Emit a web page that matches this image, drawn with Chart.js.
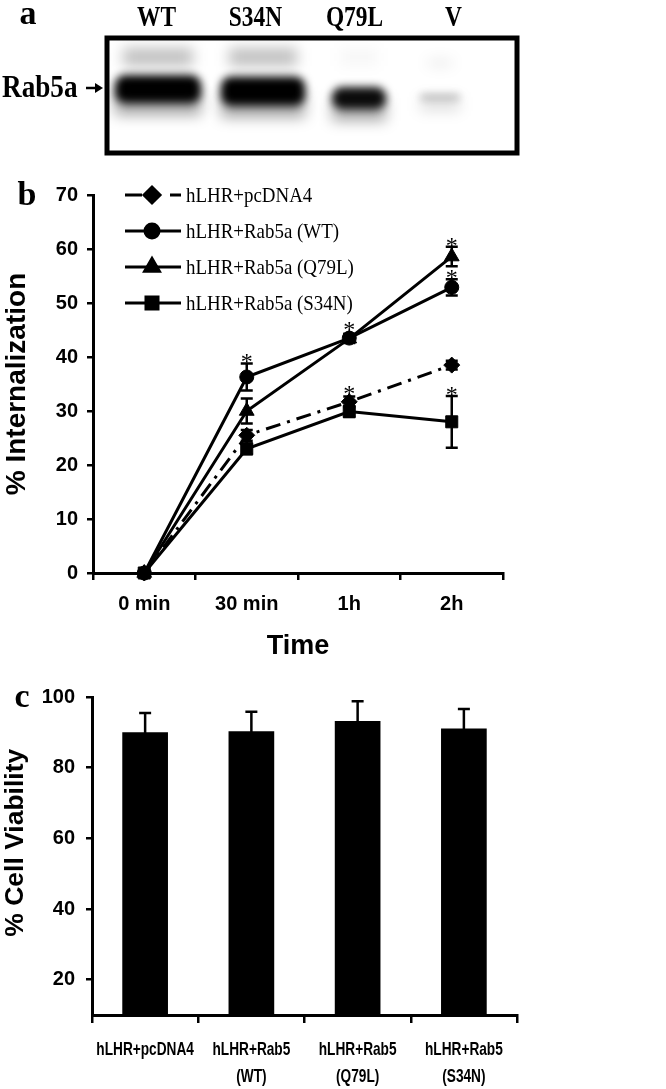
<!DOCTYPE html>
<html>
<head>
<meta charset="utf-8">
<script src="https://cdn.jsdelivr.net/npm/chart.js@4.4.0/dist/chart.umd.min.js"></script>
<style>
  html, body { margin: 0; padding: 0; background: #fff; }
  #wrap { position: relative; width: 666px; height: 1089px; overflow: hidden; }
  canvas { position: absolute; left: 0; }
</style>
</head>
<body>
<div id="wrap">
  <canvas id="blotChart" width="666" height="160" style="top:0px"></canvas>
  <canvas id="internChart" width="666" height="520" style="top:160px"></canvas>
  <canvas id="viabChart" width="666" height="409" style="top:680px"></canvas>
</div>
<script>
// panel a - western blot lanes
const blotLanes = ['WT', 'S34N', 'Q79L', 'V'];
const blotMainBand = [1.0, 1.0, 0.95, 0.35];
const blotUpperBand = [0.25, 0.25, 0.03, 0.15];

// panel b - internalization time course
const timeLabels = ['0 min', '30 min', '1h', '2h'];
const internYTicks = [0, 10, 20, 30, 40, 50, 60, 70];
const pcDNA4 = [0, 25.5, 31.7, 38.5];
const pcDNA4Err = [0, 1.0, 1.0, 0.8];
const pcDNA4Sig = [0, 0, 1, 0];
const rab5WT = [0, 36.3, 43.5, 52.9];
const rab5WTErr = [0, 2.5, 0.8, 1.5];
const rab5WTSig = [0, 1, 1, 1];
const rab5Q79L = [0, 30.0, 43.4, 58.6];
const rab5Q79LErr = [0, 2.3, 0.8, 1.8];
const rab5Q79LSig = [0, 0, 0, 1];
const rab5S34N = [0, 23.0, 29.9, 28.0];
const rab5S34NErr = [0, 1.0, 1.0, 4.8];
const rab5S34NSig = [0, 0, 0, 1];

// panel c - cell viability
const viabLabels = [['hLHR+pcDNA4'], ['hLHR+Rab5', '(WT)'], ['hLHR+Rab5', '(Q79L)'], ['hLHR+Rab5', '(S34N)']];
const viability = [90.0, 90.3, 93.2, 91.1];
const viabilityErr = [5.5, 5.5, 5.6, 5.5];
const viabYTicks = [20, 40, 60, 80, 100];

const serif = '"Liberation Serif", "Times New Roman", serif';
const sans = '"Liberation Sans", Arial, sans-serif';
Chart.defaults.color = '#000';
Chart.defaults.animation = false;
Chart.defaults.font.family = sans;

function panelLetter(letter, x, y) {
    return {
        id: 'panel_' + letter,
        afterDraw(chart) {
            const ctx = chart.ctx;
            ctx.save();
            ctx.font = 'bold 34px ' + serif;
            ctx.fillStyle = '#000';
            ctx.textAlign = 'center';
            ctx.textBaseline = 'middle';
            ctx.fillText(letter, x, y);
            ctx.restore();
        }
    };
}

// error bars + significance stars, read from dataset.errors / dataset.stars
const errorBarPlugin = {
    id: 'errorBars',
    afterDatasetsDraw(chart) {
        const ctx = chart.ctx;
        const yScale = chart.scales.y;
        chart.data.datasets.forEach((ds, i) => {
            if (!ds.errors) return;
            const meta = chart.getDatasetMeta(i);
            meta.data.forEach((el, j) => {
                const v = ds.data[j];
                const e = ds.errors[j];
                const x = el.x;
                const yTop = yScale.getPixelForValue(v + e);
                const yBot = yScale.getPixelForValue(v - e);
                ctx.save();
                ctx.strokeStyle = '#000';
                ctx.lineWidth = 2.5;
                if (e > 0) {
                    ctx.beginPath();
                    ctx.moveTo(x, yTop); ctx.lineTo(x, yBot);
                    ctx.moveTo(x - 6, yTop); ctx.lineTo(x + 6, yTop);
                    ctx.moveTo(x - 6, yBot); ctx.lineTo(x + 6, yBot);
                    ctx.stroke();
                }
                if (ds.stars && ds.stars[j]) {
                    ctx.fillStyle = '#000';
                    ctx.font = '24px ' + serif;
                    ctx.textAlign = 'center';
                    ctx.textBaseline = 'alphabetic';
                    ctx.fillText('*', x, Math.min(yTop, el.y - 7) + 6);
                }
                ctx.restore();
            });
        });
    }
};

const lineLegendPlugin = {
    id: 'lineLegend',
    afterDraw(chart) {
        const ctx = chart.ctx;
        chart.data.datasets.forEach((ds, i) => {
            const y = 35 + i * 36;
            ctx.save();
            ctx.strokeStyle = '#000';
            ctx.fillStyle = '#000';
            ctx.lineWidth = 3;
            ctx.setLineDash(ds.borderDash ? [17, 28, 11] : []);
            ctx.beginPath();
            ctx.moveTo(125, y); ctx.lineTo(181, y);
            ctx.stroke();
            ctx.setLineDash([]);
            Chart.helpers.drawPoint(ctx, { pointStyle: ds.pointStyle, radius: ds.pointRadius, borderWidth: 1, rotation: 0 }, 152, y);
            ctx.translate(186, y);
            ctx.scale(0.86, 1);
            ctx.font = '22px ' + serif;
            ctx.textBaseline = 'middle';
            ctx.fillText(ds.label, 0, 1);
            ctx.restore();
        });
    }
};

// condensed two-line category labels under panel c
const narrowLabelPlugin = {
    id: 'narrowLabels',
    afterDraw(chart) {
        const { ctx, scales: { x } } = chart;
        ctx.save();
        ctx.fillStyle = '#000';
        ctx.font = 'bold 19px ' + sans;
        ctx.textAlign = 'center';
        ctx.textBaseline = 'middle';
        chart.data.labels.forEach((lines, i) => {
            lines.forEach((line, k) => {
                ctx.save();
                ctx.translate(x.getPixelForValue(i), x.top + 35 + k * 27);
                ctx.scale(0.72, 1);
                ctx.fillText(line, 0, 0);
                ctx.restore();
            });
        });
        ctx.restore();
    }
};

const blotPlugin = {
    id: 'blot',
    beforeDatasetsDraw(chart) {
        const { ctx, chartArea: a, scales: { x } } = chart;
        const box = { l: a.left, t: a.top, r: a.right + 14, b: a.bottom };
        // lane drawing constants (band width, height, vertical centre, x shift)
        const shape = [
            { w: 86, h: 28, cy: 89, dx: 1.5 },
            { w: 84, h: 29, cy: 91, dx: 7.5 },
            { w: 54, h: 22, cy: 98, dx: 4.5 },
            { w: 40, h: 4, cy: 97, dx: -13.5 }
        ];
        ctx.save();
        ctx.beginPath();
        ctx.rect(box.l, box.t, box.r - box.l, box.b - box.t);
        ctx.clip();
        blotLanes.forEach((lane, i) => {
            const s = shape[i];
            const cx = x.getPixelForValue(i) + s.dx;
            ctx.filter = 'blur(7px)';
            ctx.fillStyle = 'rgba(0,0,0,' + blotUpperBand[i] + ')';
            ctx.fillRect(cx - s.w / 2 + 8, i === 3 ? 61 : 48, s.w - 16, i === 3 ? 4 : 18);
            ctx.fillStyle = 'rgba(0,0,0,' + (blotMainBand[i] * 0.35) + ')';
            ctx.fillRect(cx - s.w / 2, s.cy, s.w, s.h / 2 + 12);
            ctx.filter = 'blur(4px)';
            ctx.fillStyle = 'rgba(0,0,0,' + blotMainBand[i] + ')';
            ctx.beginPath();
            ctx.roundRect(cx - s.w / 2, s.cy - s.h / 2, s.w, s.h, Math.min(s.h / 2, 10));
            ctx.fill();
        });
        ctx.filter = 'none';
        ctx.restore();

        ctx.save();
        ctx.strokeStyle = '#000';
        ctx.lineWidth = 5;
        ctx.strokeRect(box.l, box.t, box.r - box.l, box.b - box.t);
        ctx.fillStyle = '#000';
        ctx.textBaseline = 'middle';
        // lane labels above the box
        ctx.font = 'bold 30px ' + serif;
        ctx.textAlign = 'center';
        chart.data.labels.forEach((lab, i) => {
            ctx.save();
            ctx.translate(x.getPixelForValue(i), 18);
            ctx.scale(0.78, 1);
            ctx.fillText(lab, 0, 0);
            ctx.restore();
        });
        // band marker on the left
        ctx.save();
        ctx.translate(2, 89);
        ctx.scale(0.85, 1);
        ctx.font = 'bold 32px ' + serif;
        ctx.textAlign = 'left';
        ctx.fillText('Rab5a', 0, 0);
        ctx.restore();
        ctx.lineWidth = 2.5;
        ctx.beginPath();
        ctx.moveTo(86, 88); ctx.lineTo(97, 88);
        ctx.stroke();
        ctx.beginPath();
        ctx.moveTo(95, 83); ctx.lineTo(103, 88); ctx.lineTo(95, 93);
        ctx.closePath();
        ctx.fill();
        ctx.restore();
    }
};

// fixed axis box sizes, without the extra label padding Chart.js adds at the ends
function fixWidth(w) {
    return s => { s.width = w; s.paddingTop = 0; s.paddingBottom = 0; };
}
function fixHeight(h) {
    return s => { s.height = h; s.paddingLeft = 0; s.paddingRight = 0; };
}

// Panel a
new Chart(document.getElementById('blotChart'), {
    type: 'bar',
    data: { labels: blotLanes, datasets: [] },
    options: {
        responsive: false,
        layout: { padding: { left: 107, right: 163, top: 0, bottom: 7 } },
        plugins: { legend: { display: false }, tooltip: { enabled: false } },
        scales: {
            x: {
                position: 'top',
                grid: { display: false, drawTicks: false },
                border: { display: false },
                ticks: { display: false },
                afterFit: fixHeight(38)
            },
            y: { display: false, min: 0, max: 1 }
        }
    },
    plugins: [blotPlugin, panelLetter('a', 28, 15)]
});

// Panel b
const lineBase = {
    borderColor: '#000', backgroundColor: '#000',
    pointBackgroundColor: '#000', pointBorderColor: '#000',
    borderWidth: 3, pointBorderWidth: 1, tension: 0, fill: false, clip: false
};
new Chart(document.getElementById('internChart'), {
    type: 'line',
    data: {
        labels: timeLabels,
        datasets: [
            { label: 'hLHR+pcDNA4', data: pcDNA4, errors: pcDNA4Err, stars: pcDNA4Sig, borderDash: [15, 7, 3, 7], pointStyle: 'rectRot', pointRadius: 8 },
            { label: 'hLHR+Rab5a (WT)', data: rab5WT, errors: rab5WTErr, stars: rab5WTSig, pointStyle: 'circle', pointRadius: 7 },
            { label: 'hLHR+Rab5a (Q79L)', data: rab5Q79L, errors: rab5Q79LErr, stars: rab5Q79LSig, pointStyle: 'triangle', pointRadius: 8.5 },
            { label: 'hLHR+Rab5a (S34N)', data: rab5S34N, errors: rab5S34NErr, stars: rab5S34NSig, pointStyle: 'rect', pointRadius: 8.5 }
        ].map(ds => Object.assign({}, lineBase, ds))
    },
    options: {
        responsive: false,
        layout: { padding: { left: 0, right: 163, top: 35, bottom: 0 } },
        plugins: { legend: { display: false }, tooltip: { enabled: false } },
        scales: {
            x: {
                offset: true,
                grid: { offset: true, drawOnChartArea: false, tickLength: 7, color: '#000', lineWidth: 2.5 },
                border: { color: '#000', width: 3 },
                ticks: { font: { size: 20, weight: 'bold' }, padding: 12 },
                title: { display: true, text: 'Time', font: { size: 27, weight: 'bold' }, padding: { top: 0, bottom: 17 } },
                afterFit: fixHeight(107)
            },
            y: {
                min: 0, max: 70,
                afterBuildTicks: s => { s.ticks = internYTicks.map(v => ({ value: v })); },
                ticks: { font: { size: 20, weight: 'bold' }, padding: 9 },
                grid: { drawOnChartArea: false, tickLength: 6, color: '#000', lineWidth: 2.5 },
                border: { color: '#000', width: 3 },
                title: { display: true, text: '% Internalization', font: { size: 28, weight: 'bold' }, padding: 0 },
                afterFit: fixWidth(93)
            }
        }
    },
    plugins: [errorBarPlugin, lineLegendPlugin, panelLetter('b', 27, 36)]
});

// Panel c
new Chart(document.getElementById('viabChart'), {
    type: 'bar',
    data: {
        labels: viabLabels,
        datasets: [{
            data: viability, errors: viabilityErr,
            backgroundColor: '#000', borderWidth: 0,
            barPercentage: 0.43, categoryPercentage: 1
        }]
    },
    options: {
        responsive: false,
        layout: { padding: { left: 0, right: 149, top: 17, bottom: 0 } },
        plugins: { legend: { display: false }, tooltip: { enabled: false } },
        scales: {
            x: {
                grid: { offset: true, drawOnChartArea: false, tickLength: 8, color: '#000', lineWidth: 2.5 },
                border: { color: '#000', width: 3 },
                ticks: { display: false },
                afterFit: fixHeight(74)
            },
            y: {
                min: 10, max: 100,
                afterBuildTicks: s => { s.ticks = viabYTicks.map(v => ({ value: v })); },
                ticks: { font: { size: 20, weight: 'bold' }, padding: 11 },
                grid: { drawOnChartArea: false, tickLength: 6, color: '#000', lineWidth: 2.5 },
                border: { color: '#000', width: 3 },
                title: { display: true, text: '\u2002\u2002% Cell Viability', font: { size: 26.5, weight: 'bold' }, padding: 0 },
                afterFit: fixWidth(92)
            }
        }
    },
    plugins: [errorBarPlugin, narrowLabelPlugin, panelLetter('c', 22, 18)]
});
</script>
</body>
</html>
